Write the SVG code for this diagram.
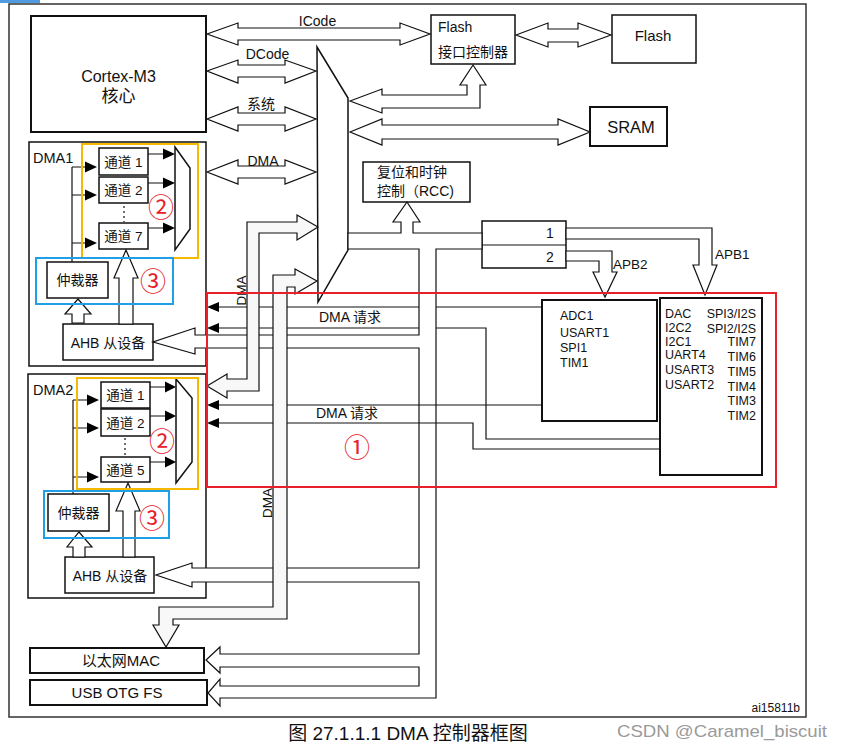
<svg xmlns="http://www.w3.org/2000/svg" width="844" height="748" viewBox="0 0 844 748">
<style>
text{font-family:"Liberation Sans","Noto Sans CJK SC",sans-serif;fill:#111}
.box{fill:#fff;stroke:#111;stroke-width:1.5}
.thk{stroke-width:2}
.ln{fill:none;stroke:#111;stroke-width:1.2}
.bus{fill:#fff;stroke:#111;stroke-width:1.2}
.ch{fill:#f8f8f8;stroke:#111;stroke-width:1.2}
.tri{fill:#000;stroke:none}
.m{text-anchor:middle}
.e{text-anchor:end}
.s14{font-size:14px}
.s13{font-size:13.5px}
.s12{font-size:12.5px}
.dot{fill:none;stroke:#111;stroke-width:1.2;stroke-dasharray:2 3}
.yel{fill:none;stroke:#f7b900;stroke-width:2}
.blu{fill:none;stroke:#1ea0e6;stroke-width:2}
.rd{fill:none;stroke:#e8202a;stroke-width:2}
.num{fill:#e8202a;font-family:"Noto Sans CJK SC",sans-serif;font-size:26px;text-anchor:middle}
</style>
<rect x="0" y="0" width="40" height="3" fill="#4f9be0"/>
<rect id="frame" x="9" y="4" width="797" height="713" fill="#fff" stroke="#333" stroke-width="1.5"/>

<g id="cortex">
<rect class="box thk" x="31" y="16" width="175" height="116"/>
<text class="m" x="118.5" y="82" font-size="16">Cortex-M3</text>
<text class="m" x="118.5" y="102" font-size="17">核心</text>
</g>
<g id="flash-ctrl">
<rect class="box" x="431" y="15" width="84" height="49"/>
<text class="s14" x="438" y="32">Flash</text>
<text class="s14" x="438" y="57">接口控制器</text>
</g>
<g id="flash">
<rect class="box" x="612" y="15" width="84" height="48"/>
<text class="m" x="653" y="41" font-size="15">Flash</text>
</g>
<g id="sram">
<rect class="box thk" x="590" y="107" width="77" height="39"/>
<text class="m" x="631" y="133" font-size="16.5">SRAM</text>
</g>
<g id="rcc">
<rect class="box" x="363" y="162" width="107" height="40"/>
<text class="s14" x="377" y="177">复位和时钟</text>
<text class="s14" x="377" y="196">控制（RCC)</text>
</g>
<g id="bus-matrix">
<polygon class="box" stroke-width="1.2" points="317,47 348,98 348,250 318,302"/>
</g>
<g id="bridge">
<rect class="box" x="482" y="221" width="84" height="47"/>
<line class="ln" x1="482" y1="245" x2="566" y2="245"/>
<text class="m s14" x="550" y="238">1</text>
<text class="m s14" x="550" y="262">2</text>
</g>

<g id="dma1">
<rect class="box" x="29" y="142" width="177" height="224"/>
<text x="33" y="162.5" font-size="14.5">DMA1</text>
<rect class="box" x="99" y="148" width="49" height="27"/>
<text class="m s13" x="123.5" y="166.5">通道 1</text>
<rect class="box" x="99" y="177" width="49" height="26"/>
<text class="m s13" x="123.5" y="195">通道 2</text>
<rect class="box" x="99" y="223" width="49" height="26"/>
<text class="m s13" x="123.5" y="241">通道 7</text>
<line class="dot" x1="124" y1="206" x2="124" y2="222"/>
<polygon class="box" stroke-width="1.2" points="175,147 190,168 190,229 175,250"/>
<rect class="box" x="47" y="262" width="61" height="36"/>
<text class="m s14" x="77.5" y="285">仲裁器</text>
<rect class="box" x="63" y="324" width="90" height="36"/>
<text class="m s14" x="108" y="347.5">AHB 从设备</text>
</g>

<g id="dma2">
<rect class="box" x="28" y="374" width="178" height="224"/>
<text x="33" y="395" font-size="14.5">DMA2</text>
<rect class="box" x="101" y="382" width="49" height="26"/>
<text class="m s13" x="125.5" y="400">通道 1</text>
<rect class="box" x="101" y="409" width="49" height="27"/>
<text class="m s13" x="125.5" y="427.5">通道 2</text>
<rect class="box" x="101" y="457" width="49" height="25"/>
<text class="m s13" x="125.5" y="474.5">通道 5</text>
<line class="dot" x1="125" y1="438" x2="125" y2="455"/>
<polygon class="box" stroke-width="1.2" points="176,379 192,398 192,462 176,483"/>
<rect class="box" x="48" y="494" width="61" height="37"/>
<text class="m s14" x="78.5" y="517.5">仲裁器</text>
<rect class="box" x="65" y="557" width="89" height="36"/>
<text class="m s14" x="110" y="580.5">AHB 从设备</text>
</g>

<g id="apb2-periph">
<rect class="box thk" x="542" y="300" width="115" height="121"/>
<text class="s12" x="560" y="320">ADC1</text>
<text class="s12" x="560" y="336.5">USART1</text>
<text class="s12" x="560" y="351.5">SPI1</text>
<text class="s12" x="560" y="367">TIM1</text>
</g>
<g id="apb1-periph">
<rect class="box thk" x="660" y="298" width="102" height="177"/>
<text class="s12" x="665" y="318">DAC</text>
<text class="s12" x="665" y="332">I2C2</text>
<text class="s12" x="665" y="346">I2C1</text>
<text class="s12" x="665" y="359">UART4</text>
<text class="s12" x="665" y="374">USART3</text>
<text class="s12" x="665" y="389">USART2</text>
<text class="s12 e" x="756" y="318">SPI3/I2S</text>
<text class="s12 e" x="756" y="333">SPI2/I2S</text>
<text class="s12 e" x="756" y="346">TIM7</text>
<text class="s12 e" x="756" y="361">TIM6</text>
<text class="s12 e" x="756" y="376">TIM5</text>
<text class="s12 e" x="756" y="391">TIM4</text>
<text class="s12 e" x="756" y="405">TIM3</text>
<text class="s12 e" x="756" y="420">TIM2</text>
</g>
<g id="eth-mac">
<rect class="box thk" x="30" y="648" width="174" height="25"/>
<text class="m" x="121" y="666" font-size="15">以太网MAC</text>
</g>
<g id="usb-otg">
<rect class="box thk" x="30" y="680" width="177" height="25"/>
<text class="m" x="117" y="698" font-size="15">USB OTG FS</text>
</g>

<g id="connectors">
<path class="ln" d="M542,307 H215 M660,439 H486 V328 H215"/>
<path class="bus" d="M348,233 L401,233 L401,222 L393,222 L407,202 L420,222 L413,222 L413,233 L482,233 L482,249 L436,249 L436,698 L220,698 L220,706 L208,693 L220,679 L220,686 L419,686 L419,667 L220,667 L220,673 L206,660 L220,647 L220,654 L419,654 L419,582 L192,582 L192,587 L156,575 L192,563 L192,568 L419,568 L419,348 L195,348 L195,354 L153,342 L195,328 L195,335 L419,335 L419,249 L348,249 Z"/>
<path class="ln" d="M542,405 H215 M660,449 H473 V423 H215"/>
<polygon class="tri" points="207,307 219,302 219,312"/>
<polygon class="tri" points="207,328 219,323 219,333"/>
<polygon class="tri" points="207,405 219,400 219,410"/>
<polygon class="tri" points="207,423 219,418 219,428"/>
<path class="ch" d="M318,227 L297,215 L297,222 L247,222 L247,379 L227,379 L227,374 L207,386 L227,398 L227,391 L259,391 L259,233 L297,233 L297,240 Z"/>
<path class="ch" d="M317,281 L295,269 L295,275 L273,275 L273,607 L159,607 L159,625 L153,625 L166,647 L179,625 L173,625 L173,619 L287,619 L287,287 L295,287 L295,294 Z"/>
<text class="m" transform="translate(246,290.5) rotate(-90)" font-size="13.5">DMA</text>
<text class="m" transform="translate(272,503) rotate(-90)" font-size="13.5">DMA</text>
<polygon class="bus" points="207,34 238,23 238,28 400,28 400,23 430,34 400,45 400,40 238,40 238,45"/>
<polygon class="bus" points="207,71 238,60 238,65 285,65 285,60 316,71 285,83 285,77 238,77 238,83"/>
<polygon class="bus" points="207,119 238,107 238,113 285,113 285,107 316,119 285,131 285,125 238,125 238,131"/>
<polygon class="bus" points="207,172 238,160 238,166 285,166 285,160 316,172 285,184 285,178 238,178 238,184"/>
<text class="m s14" x="317.5" y="26">ICode</text>
<text class="m s14" x="267.5" y="58.5">DCode</text>
<text class="m s14" x="261" y="109">系统</text>
<text class="m s14" x="263" y="166">DMA</text>
<polygon class="bus" points="350,101 382,89 382,95 467,95 467,85 460,85 473,65 486,85 480,85 480,108 382,108 382,113"/>
<polygon class="bus" points="350,132 382,119 382,125 558,125 558,119 590,132 558,145 558,139 382,139 382,145"/>
<polygon class="bus" points="516,35 548,23 548,29 578,29 578,23 611,35 578,47 578,42 548,42 548,47"/>
<polygon class="bus" points="566,228 712,228 712,265 717,265 705,295 693,265 699,265 699,239 566,239"/>
<polygon class="bus" points="566,251 612,251 612,272 617,272 605,297 593,272 599,272 599,261 566,261"/>
<text x="715" y="259" font-size="13.5">APB1</text>
<text x="613" y="268.5" font-size="13.5">APB2</text>
<path class="ln" d="M72,262 V167 M72,167 H85 M72,195 H85 M72,243 H85 M148,154 H163 M148,183 H163 M148,228 H163"/>
<polygon class="tri" points="85,161.5 97,167 85,172.5"/>
<polygon class="tri" points="85,189.5 97,195 85,200.5"/>
<polygon class="tri" points="85,237.5 97,243 85,248.5"/>
<polygon class="tri" points="163,148.5 175,154 163,159.5"/>
<polygon class="tri" points="163,177.5 175,183 163,188.5"/>
<polygon class="tri" points="163,222.5 175,228 163,233.5"/>
<polygon class="bus" points="72,323 72,314 65,314 78,299 91,314 84,314 84,323"/>
<polygon class="bus" points="119,324 119,278 114,278 126,250 138,278 133,278 133,324"/>
<path class="ln" d="M73,494 V400 M73,400 H87 M73,428 H87 M73,477 H87 M150,387 H165 M150,416 H165 M150,462 H165"/>
<polygon class="tri" points="87,394.5 99,400 87,405.5"/>
<polygon class="tri" points="87,422.5 99,428 87,433.5"/>
<polygon class="tri" points="87,471.5 99,477 87,482.5"/>
<polygon class="tri" points="165,381.5 176,387 165,392.5"/>
<polygon class="tri" points="165,410.5 176,416 165,421.5"/>
<polygon class="tri" points="165,456.5 176,462 165,467.5"/>
<polygon class="bus" points="73,557 73,547 67,547 79,532 92,547 85,547 85,557"/>
<polygon class="bus" points="123,557 123,511 116,511 128,483 140,511 135,511 135,557"/>
<text class="m s14" x="350" y="322">DMA 请求</text>
<text class="m s14" x="347" y="418">DMA 请求</text>
</g>

<g id="annotations">
<rect class="yel" x="82" y="144" width="116" height="114"/>
<rect class="blu" x="36" y="258" width="137" height="46"/>
<rect class="yel" x="77" y="378" width="121" height="111"/>
<rect class="blu" x="44" y="491" width="125" height="47"/>
<rect class="rd" x="207" y="293" width="569" height="194"/>
<text class="num" x="161" y="216.5">②</text>
<text class="num" x="153" y="290.5">③</text>
<text class="num" x="162" y="450.5">②</text>
<text class="num" x="152" y="527.5">③</text>
<text class="num" x="357" y="456.5">①</text>
</g>

<text class="e" x="800" y="712" font-size="12">ai15811b</text>
<text x="408" y="740" text-anchor="middle" font-family="'Liberation Serif','Noto Sans CJK SC',serif" font-size="19">图 27.1.1.1 DMA 控制器框图</text>
<text x="617" y="737" font-size="17" textLength="210" lengthAdjust="spacingAndGlyphs" style="fill:#9a9a9a">CSDN @Caramel_biscuit</text>
</svg>
